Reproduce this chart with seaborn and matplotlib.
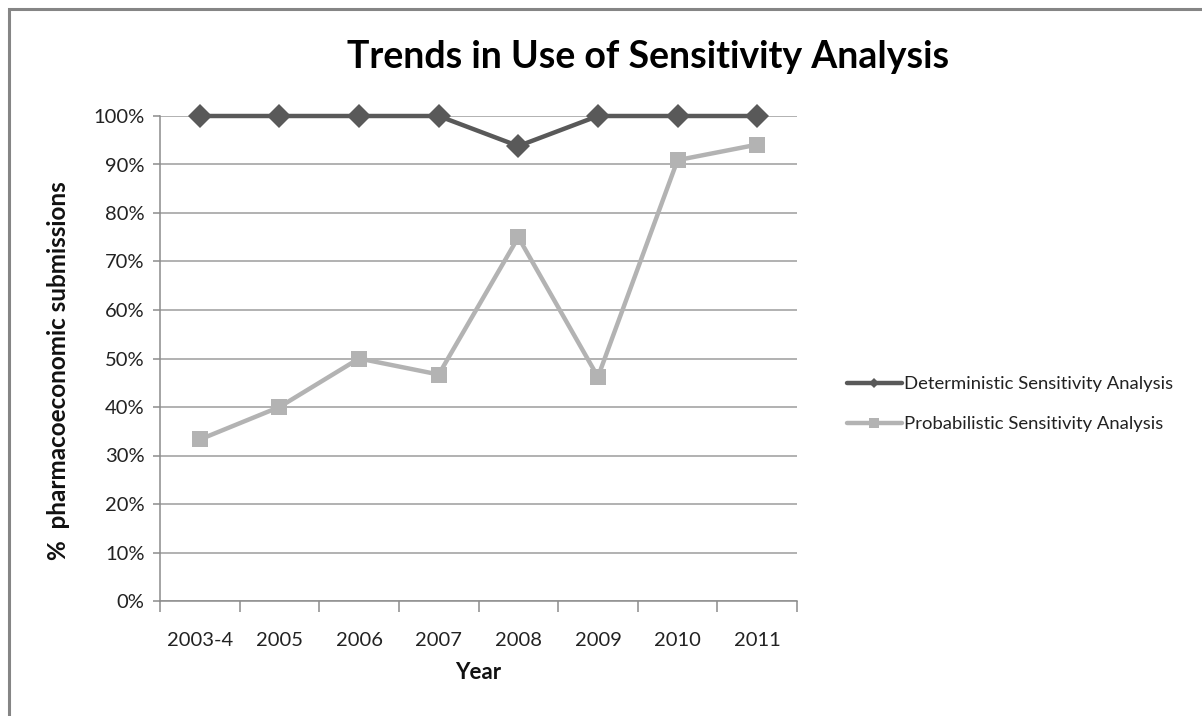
import matplotlib
matplotlib.use("Agg")
import matplotlib.pyplot as plt
import seaborn as sns
import pandas as pd
from matplotlib.patches import Rectangle
from matplotlib.lines import Line2D
from matplotlib.ticker import FixedLocator, PercentFormatter

years = ["2003-4", "2005", "2006", "2007", "2008", "2009", "2010", "2011"]
deterministic = [100, 100, 100, 100, 93.8, 100, 100, 100]
probabilistic = [33.3, 40.0, 50.0, 46.7, 75.0, 46.2, 90.9, 94.1]
series_names = ["Deterministic Sensitivity Analysis", "Probabilistic Sensitivity Analysis"]
yticks = [0, 10, 20, 30, 40, 50, 60, 70, 80, 90, 100]

sns.set_theme(style="white")
plt.rcParams["font.family"] = ["Lato", "DejaVu Sans"]

df = pd.DataFrame({
    "Year": years * 2,
    "pct": deterministic + probabilistic,
    "Series": [series_names[0]] * len(years) + [series_names[1]] * len(years),
})

fig = plt.figure(figsize=(12.02, 7.16), dpi=100)
ax = fig.add_axes([160 / 1202, 1 - 601 / 716, (797 - 160) / 1202, (601 - 116) / 716])

colors = {series_names[0]: "#595959", series_names[1]: "#B3B3B3"}
markers = {series_names[0]: "D", series_names[1]: "s"}
sns.lineplot(data=df, x="Year", y="pct", hue="Series", style="Series",
             palette=colors, markers=markers, dashes=False, sort=False,
             linewidth=3.2, markersize=11, markeredgewidth=0, ax=ax, legend=False)

# marker sizes differ per series
for line in ax.get_lines():
    line.set_clip_on(False)
    if line.get_marker() == "D":
        line.set_markersize(12.5)
        line.set_zorder(4)
    else:
        line.set_markersize(12)
        line.set_zorder(3)

ax.set_xlim(-0.5, len(years) - 0.5)
ax.set_ylim(0, 100)
ax.set_yticks(yticks)
ax.yaxis.set_major_formatter(PercentFormatter(decimals=0))
ax.grid(axis="y", color="#9C9C9C", linewidth=1.1)
ax.set_axisbelow(True)
for s in ["top", "right"]:
    ax.spines[s].set_visible(False)
for s in ["left", "bottom"]:
    ax.spines[s].set_color("#8C8C8C")
    ax.spines[s].set_linewidth(1.1)

ax.set_xticks(range(len(years)))
ax.set_xticklabels(years)
ax.xaxis.set_minor_locator(FixedLocator([i - 0.5 for i in range(len(years) + 1)]))
ax.tick_params(axis="x", which="major", length=0, pad=22, labelsize=14.5, labelcolor="#222222")
ax.tick_params(axis="x", which="minor", length=8, width=1.1, color="#8C8C8C", direction="out", bottom=True)
ax.tick_params(axis="y", which="major", length=5, width=1.1, color="#8C8C8C", direction="out",
               left=True, pad=6, labelsize=14.5, labelcolor="#222222")

ax.set_xlabel("Year", fontsize=16, fontweight="bold", labelpad=10, color="#111111")
ax.set_ylabel("%  pharmacoeconomic submissions", fontsize=17.5, fontweight="bold", color="#111111")
ax.yaxis.set_label_coords(-0.141, 0.475)

fig.text(648 / 1202, 1 - 57 / 716, "Trends in Use of Sensitivity Analysis",
         ha="center", va="center", fontsize=27, fontweight="bold", color="#000000")

# legend handles
handles = [
    Line2D([], [], color="#595959", lw=3.2, marker="D", markersize=5, markeredgewidth=0),
    Line2D([], [], color="#B3B3B3", lw=3.2, marker="s", markersize=7, markeredgewidth=0),
]
fig.legend(handles, series_names, loc="center left", bbox_to_anchor=(830 / 1202, 1 - 404 / 716),
           frameon=False, fontsize=13.3, handlelength=3.0, handletextpad=0.1, labelspacing=1.3,
           labelcolor="#222222")

# chart-area frame
fig.patches.append(Rectangle((9 / 1202, -0.1), 1.2, 1 - 9 / 716 + 0.1, transform=fig.transFigure,
                             fill=False, edgecolor="#858585", linewidth=2.2, zorder=0))

fig.savefig("out.png", dpi=100)
